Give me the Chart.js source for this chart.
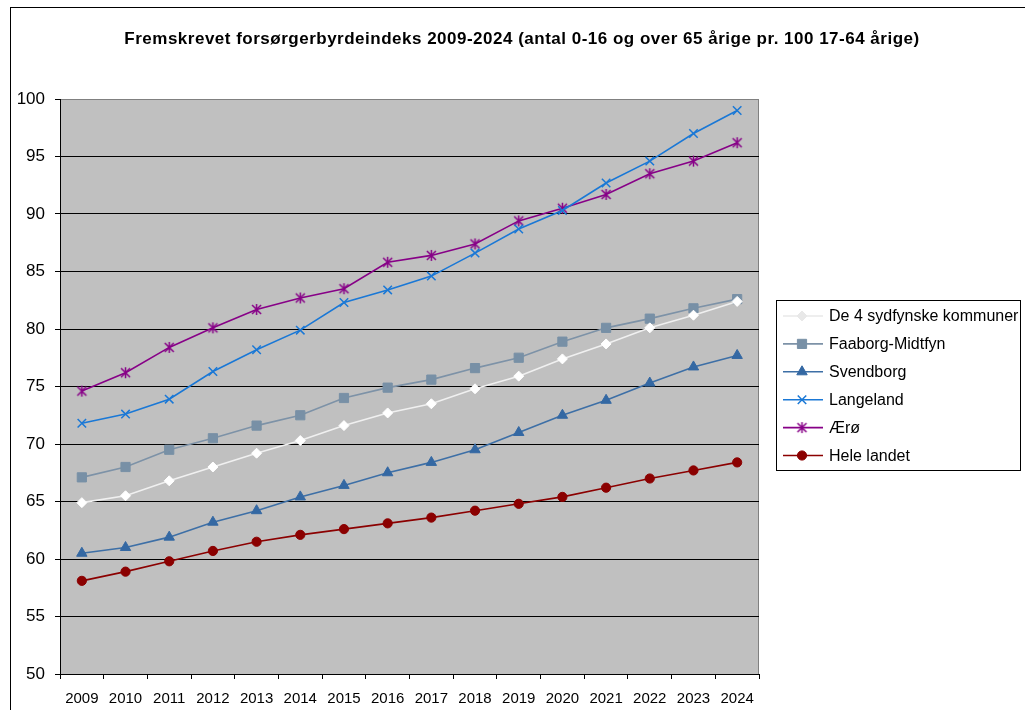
<!DOCTYPE html>
<html>
<head>
<meta charset="utf-8">
<script src="https://cdn.jsdelivr.net/npm/chart.js@4/dist/chart.umd.min.js"></script>
<style>
  html, body { margin: 0; padding: 0; background: #fff; }
  #chart { display: block; }
</style>
</head>
<body>
<canvas id="chart" width="1025" height="710"></canvas>
<script>
// ── Data ──────────────────────────────────────────────────────
const years = ['2009', '2010', '2011', '2012', '2013', '2014', '2015', '2016',
               '2017', '2018', '2019', '2020', '2021', '2022', '2023', '2024'];

const sydfyn    = [64.9, 65.5, 66.8, 68.0, 69.2, 70.3, 71.6, 72.7, 73.5, 74.8, 75.9, 77.4, 78.7, 80.1, 81.2, 82.4];
const faaborg   = [67.1, 68.0, 69.5, 70.5, 71.6, 72.5, 74.0, 74.9, 75.6, 76.6, 77.5, 78.9, 80.1, 80.9, 81.8, 82.6];
const svendborg = [60.5, 61.0, 61.9, 63.2, 64.2, 65.4, 66.4, 67.5, 68.4, 69.5, 71.0, 72.5, 73.8, 75.3, 76.7, 77.7];
const langeland = [71.8, 72.6, 73.9, 76.3, 78.2, 79.9, 82.3, 83.4, 84.6, 86.6, 88.7, 90.3, 92.7, 94.6, 97.0, 99.0];
const aeroe     = [74.6, 76.2, 78.4, 80.1, 81.7, 82.7, 83.5, 85.8, 86.4, 87.4, 89.4, 90.5, 91.7, 93.5, 94.6, 96.2];
const hele      = [58.1, 58.9, 59.8, 60.7, 61.5, 62.1, 62.6, 63.1, 63.6, 64.2, 64.8, 65.4, 66.2, 67.0, 67.7, 68.4];

const seriesNames = ['De 4 sydfynske kommuner', 'Faaborg-Midtfyn', 'Svendborg', 'Langeland', 'Ærø', 'Hele landet'];
const titleText = 'Fremskrevet forsørgerbyrdeindeks 2009-2024 (antal 0-16 og over 65 årige pr. 100 17-64 årige)';

const FONT = "'Liberation Sans', Arial, sans-serif";

// Excel-style asterisk marker (X with a vertical stroke)
function asteriskMarker(color) {
  const c = document.createElement('canvas');
  c.width = 13; c.height = 13;
  const g = c.getContext('2d');
  g.strokeStyle = color;
  g.lineWidth = 1.5;
  g.beginPath();
  g.moveTo(2, 2);   g.lineTo(11, 11);
  g.moveTo(11, 2);  g.lineTo(2, 11);
  g.moveTo(6.5, 1); g.lineTo(6.5, 12);
  g.stroke();
  return c;
}

function series(label, data, line, fill, style, radius) {
  return {
    label, data,
    borderColor: line, backgroundColor: fill,
    pointBackgroundColor: fill, pointBorderColor: fill,
    pointStyle: style, pointRadius: radius, pointHoverRadius: radius,
    pointBorderWidth: style === 'crossRot' ? 1.5 : 1,
    borderWidth: 1.6, tension: 0, fill: false,
  };
}

const datasets = [
  series(seriesNames[0], sydfyn,    '#f0f0f0', '#ffffff', 'rectRot', 5),
  series(seriesNames[1], faaborg,   '#7d92a7', '#7890a6', 'rect', 6.5),
  series(seriesNames[2], svendborg, '#3d6fa6', '#3468a3', 'triangle', 6),
  series(seriesNames[3], langeland, '#1a78d6', '#1a78d6', 'crossRot', 6),
  series(seriesNames[4], aeroe,     '#870087', '#870087', asteriskMarker('#870087'), 6),
  series(seriesNames[5], hele,      '#8b0000', '#8b0000', 'circle', 4.6),
];

// ── Plugins ───────────────────────────────────────────────────
const framePlugin = {
  id: 'frame',
  beforeDraw(chart) {
    const { ctx, chartArea: a } = chart;
    ctx.save();
    ctx.strokeStyle = '#000';
    ctx.lineWidth = 1;
    ctx.strokeRect(10.5, 7.5, 1030, 720);
    ctx.fillStyle = '#c0c0c0';
    ctx.fillRect(a.left, a.top, a.right - a.left, a.bottom - a.top);
    ctx.strokeStyle = '#808080';
    ctx.beginPath();
    ctx.moveTo(a.left, a.top + 0.5);
    ctx.lineTo(a.right - 0.5, a.top + 0.5);
    ctx.lineTo(a.right - 0.5, a.bottom);
    ctx.stroke();

    // chart title
    ctx.fillStyle = '#000';
    ctx.font = `bold 17px ${FONT}`;
    ctx.letterSpacing = '0.5px';
    ctx.textAlign = 'center';
    ctx.textBaseline = 'alphabetic';
    ctx.fillText(titleText, 522, 44);
    ctx.restore();
  },
};

const legendBoxPlugin = {
  id: 'legendBox',
  afterDraw(chart) {
    const { ctx } = chart;
    const x = 776.5, y = 300.5, w = 244, h = 170, rowH = 27.9;
    ctx.save();
    ctx.fillStyle = '#fff';
    ctx.fillRect(x, y, w, h);
    ctx.strokeStyle = '#000';
    ctx.lineWidth = 1;
    ctx.strokeRect(x, y, w, h);
    chart.data.datasets.forEach((ds, i) => {
      const cy = 316 + i * rowH;
      const light = ds.borderColor === '#f0f0f0';
      ctx.strokeStyle = light ? '#e8e8e8' : ds.borderColor;
      ctx.lineWidth = ds.borderWidth;
      ctx.beginPath();
      ctx.moveTo(783, cy);
      ctx.lineTo(823, cy);
      ctx.stroke();
      ctx.fillStyle = light ? '#e8e8e8' : ds.pointBackgroundColor;
      ctx.strokeStyle = ctx.fillStyle;
      ctx.lineWidth = ds.pointBorderWidth;
      Chart.helpers.drawPoint(ctx, {
        pointStyle: ds.pointStyle, radius: ds.pointRadius, rotation: 0,
        borderWidth: ds.pointBorderWidth,
      }, 802, cy);
      ctx.fillStyle = '#000';
      ctx.font = `16px ${FONT}`;
      ctx.textBaseline = 'middle';
      ctx.textAlign = 'left';
      ctx.fillText(ds.label, 829, cy + 1);
    });
    ctx.restore();
  },
};

// ── Chart ─────────────────────────────────────────────────────
new Chart(document.getElementById('chart'), {
  type: 'line',
  data: { labels: years, datasets },
  plugins: [framePlugin, legendBoxPlugin],
  options: {
    responsive: false,
    animation: false,
    devicePixelRatio: 1,
    layout: { padding: { left: 0, right: 266, top: 99, bottom: 0 } },
    plugins: {
      legend: { display: false },
      tooltip: { enabled: false },
      title: { display: false },
    },
    scales: {
      x: {
        offset: true,
        afterFit(s) { s.height = 36; },
        grid: { offset: true, drawOnChartArea: false, drawTicks: true, tickLength: 5, color: '#000' },
        border: { color: '#000', width: 1 },
        ticks: { color: '#000', font: { family: FONT, size: 15 }, padding: 11, maxRotation: 0, autoSkip: false },
      },
      y: {
        min: 50, max: 100,
        afterFit(s) { s.width = 60; },
        grid: {
          color: c => (c.tick && c.tick.value === 100 ? '#808080' : '#000'),
          tickColor: '#000',
          tickLength: 5,
          lineWidth: 1,
        },
        border: { color: '#000', width: 1 },
        ticks: { stepSize: 5, color: '#000', font: { family: FONT, size: 17 }, padding: 10 },
      },
    },
  },
});
</script>
</body>
</html>
